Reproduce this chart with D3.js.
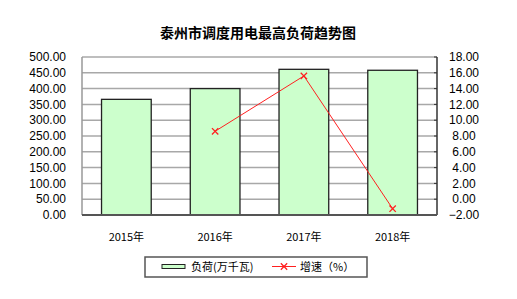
<!DOCTYPE html>
<html>
<head>
<meta charset="utf-8">
<script src="https://cdn.jsdelivr.net/npm/d3@7"></script>
<style>
  body { margin: 0; background: #fff; }
  text { font-family: "Liberation Sans", Arial, sans-serif; }
  .cjk { font-family: "Noto Sans CJK SC", sans-serif; }
</style>
</head>
<body>
<script>
// 数据
var years = ["2015年", "2016年", "2017年", "2018年"];
var load = [366, 400, 461, 458];          // 负荷(万千瓦)
var growth = [null, 8.6, 15.6, -1.2];     // 增速(%)
var leftTicks = [0, 50, 100, 150, 200, 250, 300, 350, 400, 450, 500];
var rightTicks = [-2, 0, 2, 4, 6, 8, 10, 12, 14, 16, 18];

var W = 517, H = 299;
var margin = { top: 57, left: 82, right: 80, bottom: 84 };
var svg = d3.select("body").append("svg").attr("width", W).attr("height", H);

var x0 = margin.left, x1 = W - margin.right, y0 = H - margin.bottom, y1 = margin.top;

var x = d3.scaleBand().domain(years).range([x0, x1]).paddingInner(0.44).paddingOuter(0.22);
var y = d3.scaleLinear().domain([0, 500]).range([y0, y1]);
var y2 = d3.scaleLinear().domain([-2, 18]).range([y0, y1]);

// 标题
svg.append("text").attr("class", "cjk")
    .attr("x", 258).attr("y", 38)
    .attr("text-anchor", "middle")
    .attr("font-size", 14).attr("font-weight", "bold")
    .text("泰州市调度用电最高负荷趋势图");

// 网格线
svg.append("g").selectAll("line").data(leftTicks.slice(1)).enter().append("line")
    .attr("x1", x0).attr("x2", x1)
    .attr("y1", d => y(d)).attr("y2", d => y(d))
    .attr("stroke", "#a8a8a8").attr("stroke-width", 1.5);

// 左轴线
svg.append("line").attr("x1", x0).attr("x2", x0).attr("y1", y1).attr("y2", y0)
    .attr("stroke", "#999").attr("stroke-width", 1.5);

// 左轴刻度
svg.append("g").selectAll("text").data(leftTicks).enter().append("text")
    .attr("x", 66).attr("y", d => y(d)).attr("dy", "0.35em")
    .attr("text-anchor", "end").attr("font-size", 12).attr("fill", "#000")
    .text(d => d3.format(".2f")(d));

// 右轴刻度
svg.append("g").selectAll("text").data(rightTicks).enter().append("text")
    .attr("x", 464).attr("y", d => y2(d)).attr("dy", "0.35em")
    .attr("text-anchor", "middle").attr("font-size", 12).attr("fill", "#000")
    .text(d => d3.format(".2f")(d));

// 柱
svg.append("g").selectAll("rect").data(load).enter().append("rect")
    .attr("x", (d, i) => x(years[i]))
    .attr("y", d => y(d))
    .attr("width", x.bandwidth())
    .attr("height", d => y0 - y(d))
    .attr("fill", "#ccffcc").attr("stroke", "#222").attr("stroke-width", 1.3);

// 右轴与底轴
svg.append("line").attr("x1", x1).attr("x2", x1).attr("y1", y1).attr("y2", y0)
    .attr("stroke", "#333").attr("stroke-width", 1.5);
svg.append("g").selectAll("line").data(rightTicks).enter().append("line")
    .attr("x1", x1 - 3).attr("x2", x1)
    .attr("y1", d => y2(d)).attr("y2", d => y2(d))
    .attr("stroke", "#333");
svg.append("line").attr("x1", x0).attr("x2", x1).attr("y1", y0).attr("y2", y0)
    .attr("stroke", "#555").attr("stroke-width", 2);

// 增速折线
var pts = growth.map((d, i) => [x(years[i]) + x.bandwidth() / 2, d]).filter(d => d[1] !== null);
var line = d3.line().x(d => d[0]).y(d => y2(d[1]));
svg.append("path").datum(pts).attr("d", line)
    .attr("fill", "none").attr("stroke", "#ff2020").attr("stroke-width", 1);
var cross = d3.symbol().type(d3.symbolX).size(28);
svg.append("g").selectAll("path").data(pts).enter().append("path")
    .attr("d", cross)
    .attr("transform", d => "translate(" + [d[0], y2(d[1])] + ")")
    .attr("stroke", "#ff2020").attr("stroke-width", 1.3).attr("fill", "none");

// 类别标签
svg.append("g").selectAll("text").data(years).enter().append("text")
    .attr("class", "cjk")
    .attr("x", d => x(d) + x.bandwidth() / 2).attr("y", 237).attr("dy", "0.35em")
    .attr("text-anchor", "middle").attr("font-size", 11)
    .text(d => d);

// 图例
var lg = svg.append("g");
lg.append("rect").attr("x", 145).attr("y", 257).attr("width", 222).attr("height", 20)
    .attr("fill", "#fff").attr("stroke", "#555").attr("stroke-width", 1.5);
lg.append("rect").attr("x", 162).attr("y", 264.5).attr("width", 23).attr("height", 4)
    .attr("fill", "#ccffcc").attr("stroke", "#222").attr("stroke-width", 1);
lg.append("text").attr("class", "cjk").attr("x", 191).attr("y", 267).attr("dy", "0.35em")
    .attr("font-size", 11).text("负荷(万千瓦)");
lg.append("line").attr("x1", 272).attr("x2", 296).attr("y1", 266.5).attr("y2", 266.5)
    .attr("stroke", "#ff2020");
lg.append("path").attr("d", cross).attr("transform", "translate(284,266.5)")
    .attr("stroke", "#ff2020").attr("stroke-width", 1.3).attr("fill", "none");
lg.append("text").attr("class", "cjk").attr("x", 300).attr("y", 267).attr("dy", "0.35em")
    .attr("font-size", 11).text("增速（%）");
</script>
</body>
</html>
